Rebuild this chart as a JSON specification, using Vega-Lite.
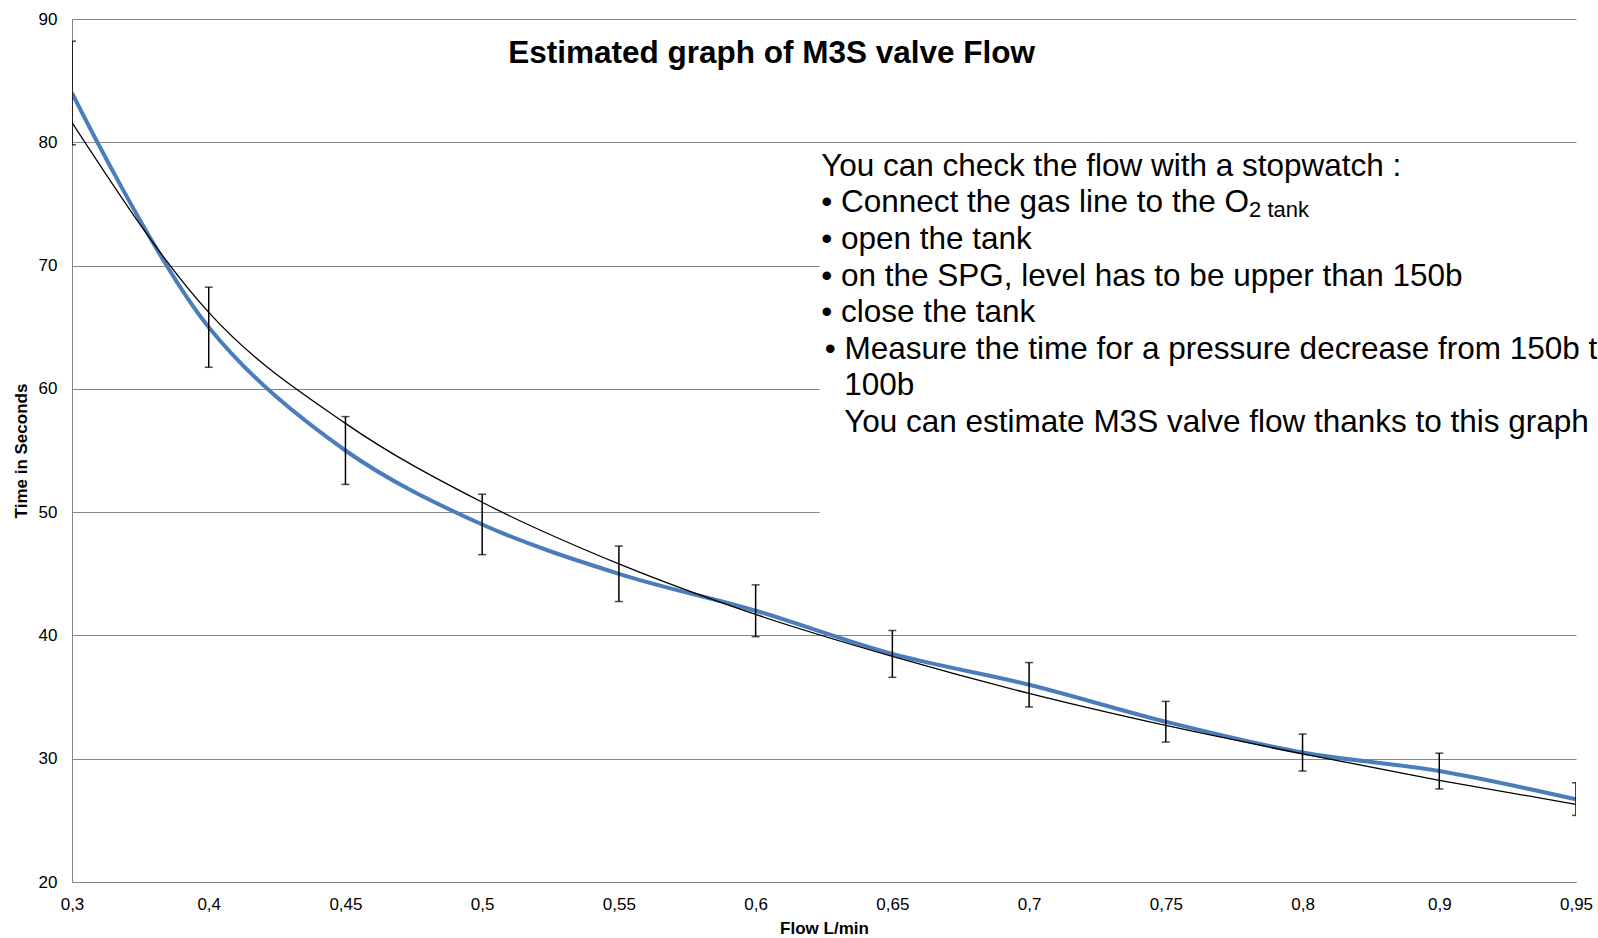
{
  "$schema": "https://vega.github.io/schema/vega-lite/v6.json",
  "width": 1504,
  "height": 863,
  "autosize": {"type": "none"},
  "padding": {"left": 72, "top": 19, "right": 22, "bottom": 56},
  "background": "white",
  "config": {
    "view": {"stroke": null},
    "font": "Liberation Sans",
    "axis": {
      "labelFont": "Liberation Sans",
      "titleFont": "Liberation Sans",
      "labelColor": "#000000",
      "titleColor": "#000000",
      "labelFontSize": 17,
      "titleFontSize": 17,
      "titleFontWeight": "bold",
      "domainColor": "#868686",
      "gridColor": "#868686",
      "gridWidth": 1,
      "domainWidth": 1,
      "ticks": false,
      "tickSize": 0,
      "labelOverlap": false
    }
  },
  "datasets": {
    "flow": [
      {"flow": "0,3", "time": 84.0, "low": 79.8, "high": 88.2, "trend": 81.6},
      {"flow": "0,4", "time": 65.0, "low": 61.75, "high": 68.25, "trend": 66.2},
      {"flow": "0,45", "time": 55.0, "low": 52.25, "high": 57.75, "trend": 57.2},
      {"flow": "0,5", "time": 49.0, "low": 46.55, "high": 51.45, "trend": 50.8},
      {"flow": "0,55", "time": 45.0, "low": 42.75, "high": 47.25, "trend": 45.8},
      {"flow": "0,6", "time": 42.0, "low": 39.9, "high": 44.1, "trend": 41.7},
      {"flow": "0,65", "time": 38.5, "low": 36.6, "high": 40.4, "trend": 38.3},
      {"flow": "0,7", "time": 36.0, "low": 34.2, "high": 37.8, "trend": 35.3},
      {"flow": "0,75", "time": 33.0, "low": 31.35, "high": 34.65, "trend": 32.7},
      {"flow": "0,8", "time": 30.5, "low": 29.0, "high": 32.0, "trend": 30.4},
      {"flow": "0,9", "time": 29.0, "low": 27.55, "high": 30.45, "trend": 28.25},
      {"flow": "0,95", "time": 26.7, "low": 25.4, "high": 28.05, "trend": 26.3}
    ],
    "notes": [
      {"note": "Estimated graph of M3S valve Flow", "group": "title", "pos": 86.4},
      {"note": "You can check the flow with a stopwatch :", "group": "a", "pos": 77.3},
      {"note": "• Connect the gas line to the O", "group": "a", "pos": 74.32},
      {"note": "2 tank", "group": "sub", "pos": 74.32},
      {"note": "• open the tank", "group": "a", "pos": 71.35},
      {"note": "• on the SPG, level has to be upper than 150b", "group": "a", "pos": 68.38},
      {"note": "• close the tank", "group": "a", "pos": 65.42},
      {"note": "• Measure the time for a pressure decrease from 150b to", "group": "b", "pos": 62.45},
      {"note": "100b", "group": "c", "pos": 59.48},
      {"note": "You can estimate M3S valve flow thanks to this graph", "group": "c", "pos": 56.51}
    ]
  },
  "data": {"name": "flow"},
  "layer": [
    {
      "data": {"values": [{}]},
      "mark": {"type": "rect", "fill": "white", "xOffset": 64, "x2Offset": 40},
      "encoding": {
        "x": {"datum": "0,6", "type": "ordinal"},
        "x2": {"datum": "0,95"},
        "y": {"datum": 79.5, "type": "quantitative"},
        "y2": {"datum": 47.8}
      }
    },
    {
      "mark": {"type": "line", "color": "#4a7ebb", "strokeWidth": 4, "interpolate": "catmull-rom", "clip": true},
      "encoding": {
        "x": {
          "field": "flow", "type": "ordinal",
          "scale": {"type": "point", "padding": 0, "domain": ["0,3", "0,4", "0,45", "0,5", "0,55", "0,6", "0,65", "0,7", "0,75", "0,8", "0,9", "0,95"]},
          "axis": {"title": "Flow L/min", "labelPadding": 14, "titlePadding": 8, "grid": false, "domain": true, "labelAngle": 0, "labelAlign": "center", "labelBaseline": "top"}
        },
        "y": {
          "field": "time", "type": "quantitative",
          "scale": {"domain": [20, 90], "nice": false, "zero": false},
          "axis": {"title": "Time in Seconds", "values": [20, 30, 40, 50, 60, 70, 80, 90], "grid": true, "labelPadding": 15, "titlePadding": 8, "domain": true, "labelAlign": "right", "labelBaseline": "middle"}
        }
      }
    },
    {
      "mark": {"type": "line", "color": "#000000", "strokeWidth": 1.3, "interpolate": "monotone", "clip": true},
      "encoding": {
        "x": {"field": "flow", "type": "ordinal"},
        "y": {"field": "trend", "type": "quantitative"}
      }
    },
    {
      "mark": {"type": "rule", "color": "#000000", "strokeWidth": 1.5, "clip": true},
      "encoding": {
        "x": {"field": "flow", "type": "ordinal"},
        "y": {"field": "low", "type": "quantitative"},
        "y2": {"field": "high"}
      }
    },
    {
      "mark": {"type": "tick", "orient": "horizontal", "color": "#000000", "size": 8, "thickness": 1.5, "clip": true},
      "encoding": {
        "x": {"field": "flow", "type": "ordinal"},
        "y": {"field": "low", "type": "quantitative"}
      }
    },
    {
      "mark": {"type": "tick", "orient": "horizontal", "color": "#000000", "size": 8, "thickness": 1.5, "clip": true},
      "encoding": {
        "x": {"field": "flow", "type": "ordinal"},
        "y": {"field": "high", "type": "quantitative"}
      }
    },
    {
      "data": {"name": "notes"},
      "transform": [{"filter": "datum.group === 'title'"}],
      "mark": {"type": "text", "font": "Liberation Sans", "fontSize": 31.5, "fontWeight": "bold", "align": "center", "baseline": "alphabetic", "dx": 16, "color": "#000000"},
      "encoding": {
        "x": {"datum": "0,6", "type": "ordinal"},
        "y": {"field": "pos", "type": "quantitative"},
        "text": {"field": "note"}
      }
    },
    {
      "data": {"name": "notes"},
      "transform": [{"filter": "datum.group === 'a'"}],
      "mark": {"type": "text", "font": "Liberation Sans", "fontSize": 31.5, "align": "left", "baseline": "alphabetic", "dx": 65.5, "color": "#000000"},
      "encoding": {
        "x": {"datum": "0,6", "type": "ordinal"},
        "y": {"field": "pos", "type": "quantitative"},
        "text": {"field": "note"}
      }
    },
    {
      "data": {"name": "notes"},
      "transform": [{"filter": "datum.group === 'b'"}],
      "mark": {"type": "text", "font": "Liberation Sans", "fontSize": 31.5, "align": "left", "baseline": "alphabetic", "dx": 69, "color": "#000000"},
      "encoding": {
        "x": {"datum": "0,6", "type": "ordinal"},
        "y": {"field": "pos", "type": "quantitative"},
        "text": {"field": "note"}
      }
    },
    {
      "data": {"name": "notes"},
      "transform": [{"filter": "datum.group === 'c'"}],
      "mark": {"type": "text", "font": "Liberation Sans", "fontSize": 31.5, "align": "left", "baseline": "alphabetic", "dx": 88.5, "color": "#000000"},
      "encoding": {
        "x": {"datum": "0,6", "type": "ordinal"},
        "y": {"field": "pos", "type": "quantitative"},
        "text": {"field": "note"}
      }
    },
    {
      "data": {"name": "notes"},
      "transform": [{"filter": "datum.group === 'sub'"}],
      "mark": {"type": "text", "font": "Liberation Sans", "fontSize": 22, "align": "left", "baseline": "alphabetic", "dx": 493.4, "dy": 5, "color": "#000000"},
      "encoding": {
        "x": {"datum": "0,6", "type": "ordinal"},
        "y": {"field": "pos", "type": "quantitative"},
        "text": {"field": "note"}
      }
    }
  ]
}
